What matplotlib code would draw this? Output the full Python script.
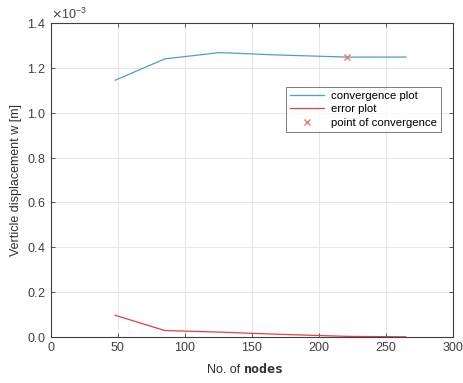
import matplotlib
matplotlib.use("Agg")
import matplotlib.pyplot as plt
from matplotlib.ticker import ScalarFormatter
from matplotlib.font_manager import FontProperties

# mesh sizes and results
nodes = [48, 85, 126, 166, 221, 265]
w_conv = [1.145e-3, 1.240e-3, 1.268e-3, 1.258e-3, 1.248e-3, 1.248e-3]
w_err = [0.097e-3, 0.029e-3, 0.022e-3, 0.013e-3, 0.003e-3, 0.001e-3]
conv_node = [221]
conv_w = [1.248e-3]

plt.rcParams['font.family'] = ['Liberation Sans', 'DejaVu Sans']
plt.rcParams['font.size'] = 9

fig = plt.figure(figsize=(4.63, 3.83), dpi=100)
ax = fig.add_axes([0.110, 0.120, 0.868, 0.820])

ax.plot(nodes, w_conv, color='#4a9fd0', lw=0.9, label='convergence plot')
ax.plot(nodes, w_err, color='#e04040', lw=0.9, label='error plot')
ax.plot(conv_node, conv_w, 'x', color='#e08060', ms=5, mew=1.0, ls='none',
        label='point of convergence')

ax.set_xlim(0, 300)
ax.set_ylim(0, 1.4e-3)
ax.set_xticks(range(0, 301, 50))
ax.set_yticks([i * 0.2e-3 for i in range(8)])
fmt = ScalarFormatter(useMathText=True)
fmt.set_powerlimits((-3, -3))
ax.yaxis.set_major_formatter(fmt)
ax.yaxis.get_offset_text().set_color('#404040')

ax.grid(True, color='#e6e6e6', lw=0.7)
ax.tick_params(direction='in', top=True, right=True, length=3, colors='#404040',
               labelcolor='#404040', width=0.6)
for s in ax.spines.values():
    s.set_color('#404040')
    s.set_linewidth(0.8)

ax.set_ylabel('Verticle displacement w [m]', color='#303030')
mono = FontProperties(fname=matplotlib.font_manager.findfont(
    FontProperties(family='monospace', weight='bold')), size=9.5)
ax.text(0.48, -0.115, 'No. of ', transform=ax.transAxes, ha='right',
        va='baseline', color='#303030')
ax.text(0.48, -0.115, 'nodes', transform=ax.transAxes, ha='left',
        va='baseline', fontproperties=mono, color='#303030')

leg = ax.legend(loc='upper right', bbox_to_anchor=(0.985, 0.815), fancybox=False,
                fontsize=8.2, handlelength=3.0, borderpad=0.35, labelspacing=0.3,
                handletextpad=0.6)
leg.get_frame().set_edgecolor('#404040')
leg.get_frame().set_linewidth(0.6)

fig.savefig('out.png', dpi=100)
